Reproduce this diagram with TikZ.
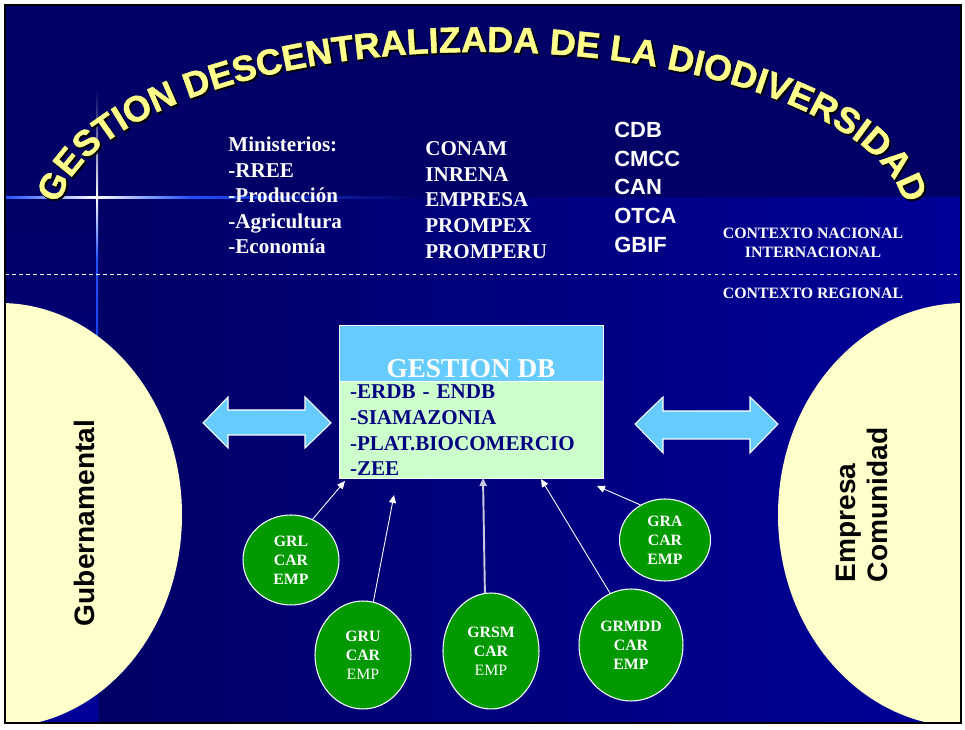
\documentclass[tikz,border=0pt]{standalone}
\usepackage{fontspec}
\setmainfont{Liberation Serif}
\setsansfont{Liberation Sans}
\newfontfamily\arcfont{Liberation Sans Bold}[FakeBold=1.2]
\newfontfamily\arcedge{Liberation Sans Bold}[FakeBold=3.5]
\usetikzlibrary{positioning,shapes.geometric,decorations.text,arrows.meta}

\definecolor{navy}{HTML}{000066}
\definecolor{slideblue}{HTML}{000099}
\definecolor{glow}{HTML}{2050FF}
\definecolor{skyblue}{HTML}{66CCFF}
\definecolor{mint}{HTML}{CCFFCC}
\definecolor{cream}{HTML}{FFFFCC}
\definecolor{leaf}{HTML}{009900}
\definecolor{wordart}{HTML}{FFFF8C}
\definecolor{itemblue}{HTML}{000080}
\definecolor{paleline}{HTML}{C8C8E0}

\tikzset{
	ministry/.style={text=white, inner sep=0pt, align=left, font=\bfseries\fontsize{12}{14.5}\selectfont},
	agency/.style={text=white, inner sep=0pt, align=left, font=\bfseries\fontsize{12}{14.7}\selectfont},
	treaty/.style={text=white, inner sep=0pt, align=left, font=\sffamily\bfseries\fontsize{12.5}{16.3}\selectfont},
	context/.style={text=white, inner sep=0pt, align=center, font=\bfseries\fontsize{9}{10.8}\selectfont},
	sidetext/.style={text=black, inner sep=0pt, font=\sffamily\bfseries\fontsize{16}{18}\selectfont},
	headbox/.style={rectangle, fill=skyblue, draw=white, line width=0.5pt, minimum width=5.28cm, minimum height=1.12cm, inner sep=0pt},
	headtext/.style={text=white, inner sep=0pt, font=\bfseries\fontsize{15.5}{17}\selectfont},
	bodybox/.style={rectangle, fill=mint, draw=white, line width=0.5pt, minimum width=5.28cm, minimum height=1.94cm,
		text width=4.84cm, inner xsep=0.22cm, inner ysep=0pt, align=left, text=itemblue, font=\bfseries\fontsize{12}{14.6}\selectfont},
	twinarrow/.style={fill=skyblue, draw=white, line width=0.6pt},
	region/.style={ellipse, fill=leaf, draw=white, line width=0.6pt, inner sep=0pt, text=white, align=center,
		font=\bfseries\fontsize{9}{10.8}\selectfont},
	feed/.style={draw=white, line width=0.5pt, -{Triangle[length=4.5pt, width=4pt]}}
}

\begin{document}
\begin{tikzpicture}[x=0.02cm, y=0.02cm]
	%%%%% START %%%%%
	\useasboundingbox (0,0) rectangle (965,730);
	\fill[white] (0,0) rectangle (965,730);
	\fill[navy] (5,532) rectangle (961,725);
	\shade[left color=navy, right color=slideblue] (97,7) rectangle (961,532);
	\shade[top color=navy, bottom color=slideblue] (5,7) rectangle (97,532);

	% light streaks
	\shade[left color=glow, right color=white] (5,531) rectangle (97,533);
	\shade[left color=white, right color=glow] (97,531) rectangle (190,533);
	\shade[left color=glow, right color=navy] (190,531) rectangle (420,533);
	\shade[top color=navy, bottom color=white] (96,640) rectangle (98,532);
	\shade[top color=white, bottom color=glow] (96,532) rectangle (98,470);
	\shade[top color=glow, bottom color=slideblue] (96,470) rectangle (98,7);

	\draw[white, line width=0.5pt, dash pattern=on 2pt off 2pt] (5,456) -- (961,456);

	% arched title
	\begin{scope}[shift={(1.5,-1.5)}]
		\path[decorate, decoration={text along path, text align=center, text color=black,
			text={|\arcedge\fontsize{20.5}{22}\selectfont|GESTION DESCENTRALIZADA DE LA DIODIVERSIDAD}}]
			(57,508) arc[start angle=180, end angle=0, x radius=425, y radius=170];
	\end{scope}
	\path[decorate, decoration={text along path, text align=center, text color=wordart,
		text={|\arcfont\fontsize{20.5}{22}\selectfont|GESTION DESCENTRALIZADA DE LA DIODIVERSIDAD}}]
		(57,508) arc[start angle=180, end angle=0, x radius=425, y radius=170];

	\node[ministry, anchor=north west] (mins) at (228,593) {Ministerios:\\-RREE\\-Producción\\-Agricultura\\-Economía};
	\node[agency, anchor=north west] (agencies) at (425,589) {CONAM\\INRENA\\EMPRESA\\PROMPEX\\PROMPERU};
	\node[treaty, anchor=north west] (treaties) at (614,608) {CDB\\CMCC\\CAN\\OTCA\\GBIF};
	\node[context, anchor=north] (ctxnat) at (813,502) {CONTEXTO NACIONAL\\INTERNACIONAL};
	\node[context, anchor=base] (ctxreg) at (813,431) {CONTEXTO REGIONAL};

	% side ovals
	\begin{scope}
		\clip (5,7) rectangle (961,725);
		\fill[cream] (0,215) ellipse [x radius=182, y radius=212];
		\fill[cream] (965,215) ellipse [x radius=187, y radius=212];
	\end{scope}
	\node[sidetext, rotate=90] (gov) at (84,207) {Gubernamental};
	\node[sidetext, rotate=90, align=left] (firms) at (862,225) {Empresa\\Comunidad};

	% central box
	\node[headbox] (gdbhead) at (471,377) {};
	\node[bodybox, below=0pt of gdbhead] (gdb) {-ERDB - ENDB\\-SIAMAZONIA\\-PLAT.BIOCOMERCIO\\-ZEE};
	\node[headtext, anchor=base] (gdbtitle) at ([yshift=0.08cm]gdbhead.south) {GESTION DB};

	\draw[twinarrow] (203,307) -- (228,333) -- (228,320) -- (305,320) -- (305,333) -- (331,307)
		-- (305,282) -- (305,295) -- (228,295) -- (228,282) -- cycle;
	\draw[twinarrow] (635,306) -- (663,333) -- (663,319) -- (750,319) -- (750,333) -- (778,306)
		-- (750,277) -- (750,291) -- (663,291) -- (663,277) -- cycle;

	% regional nodes
	\node[region, minimum width=1.92cm, minimum height=1.8cm] (grl) at (291,170) {GRL\\CAR\\EMP};
	\node[region, minimum width=1.92cm, minimum height=2.16cm] (gru) at (363,75) {GRU\\CAR\\\mdseries EMP};
	\node[region, minimum width=1.92cm, minimum height=2.32cm] (grsm) at (491,79) {GRSM\\CAR\\\mdseries EMP};
	\node[region, minimum width=2.08cm, minimum height=2.24cm] (grmdd) at (631,85) {GRMDD\\CAR\\EMP};
	\node[region, minimum width=1.82cm, minimum height=1.64cm] (gra) at (665,190) {GRA\\CAR\\EMP};

	\coordinate (tipgrl) at (345,249);
	\coordinate (tipgru) at (394,235);
	\coordinate (tipgrsm) at (483,252);
	\coordinate (tipgrmdd) at (541,251);
	\coordinate (tipgra) at (597,244);

	\draw[feed] (grl.62) -- (tipgrl);
	\draw[feed] (gru.79) -- (tipgru);
	\draw[feed, draw=paleline, line width=1.1pt] (grsm.96) -- (tipgrsm);
	\draw[feed] (grmdd.112) -- (tipgrmdd);
	\draw[feed] (gra.125) -- (tipgra);

	\draw[black, line width=1.2pt] (5,7) rectangle (961,725);
	%%%%% END %%%%%
\end{tikzpicture}
\end{document}
